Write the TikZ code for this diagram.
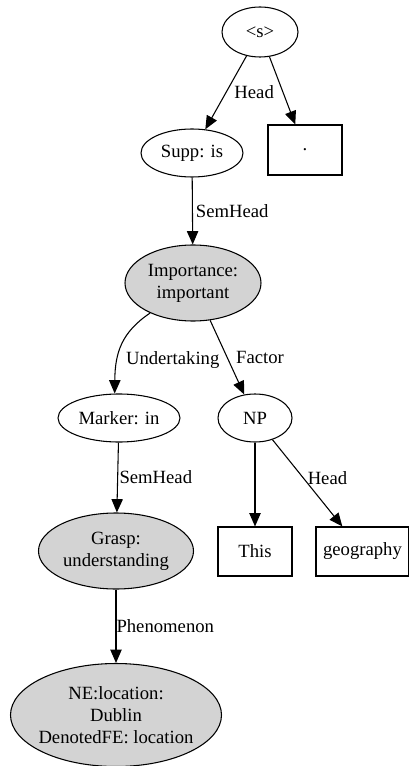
\documentclass[tikz,border=0pt]{standalone}
\usepackage{fontspec}
\setmainfont{Liberation Serif}
\usetikzlibrary{shapes.geometric,arrows.meta}
\definecolor{gvgray}{HTML}{D3D3D3}
\begin{document}
\begin{tikzpicture}[x=0.75pt,y=-0.75pt,
  every node/.style={font=\fontsize{14pt}{16.5pt}\selectfont},
  ell/.style={draw, ellipse, inner sep=0pt, line width=0.8pt, align=center},
  gell/.style={ell, fill=gvgray},
  box/.style={draw, rectangle, inner sep=0pt, line width=0.8pt},
  lbl/.style={inner sep=0pt, anchor=west},
  arr/.style={line width=0.8pt, -{Triangle[length=10pt,width=8.5pt]}}]
\useasboundingbox (0,0) rectangle (409,766);
% nodes
\node[ell, minimum width=57pt, minimum height=37.5pt] (s) at (260,32) {<s>};
\node[ell, minimum width=76.5pt, minimum height=36pt] (supp) at (192,153) {Supp: is};
\node[box, minimum width=55.5pt, minimum height=37.5pt] (dot) at (305,150) {.};
\node[gell, minimum width=102pt, minimum height=57pt] (imp) at (193,283) {Importance:\\important};
\node[ell, minimum width=91.5pt, minimum height=36pt] (mk) at (119,418) {Marker: in};
\node[ell, minimum width=55.5pt, minimum height=36pt] (np) at (255,418) {NP};
\node[gell, minimum width=116.25pt, minimum height=57pt] (grasp) at (116,551) {Grasp:\\understanding};
\node[box, minimum width=55.5pt, minimum height=36.75pt] (this) at (255,551.5) {This};
\node[box, minimum width=69.75pt, minimum height=36.75pt] (geo) at (362.5,551.5) {geography};
\node[gell, inner xsep=-3pt, minimum width=158.25pt, minimum height=77.25pt] (ne) at (116,715) {NE:location:\\Dublin\\DenotedFE: location};
% edges
\draw[arr] (s) -- node[lbl, pos=0.5, xshift=6pt] {Head} (supp);
\draw[arr] (s) -- (dot);
\draw[arr] (supp) -- node[lbl, pos=0.5, xshift=2.25pt] {SemHead} (imp);
\draw[arr] (imp.215) .. controls (122,332) and (115,352) .. node[lbl, pos=0.68, xshift=6pt] {Undertaking} (mk.100);
\draw[arr] (imp) -- node[lbl, pos=0.5, xshift=6.4pt] {Factor} (np);
\draw[arr] (mk) -- node[lbl, pos=0.5, xshift=1pt] {SemHead} (grasp);
\draw[arr] (np) -- (this);
\draw[arr] (np) -- node[lbl, pos=0.44, xshift=3pt] {Head} (geo);
\draw[arr] (grasp) -- node[lbl, pos=0.5, xshift=0pt] {Phenomenon} (ne);
\end{tikzpicture}
\end{document}
